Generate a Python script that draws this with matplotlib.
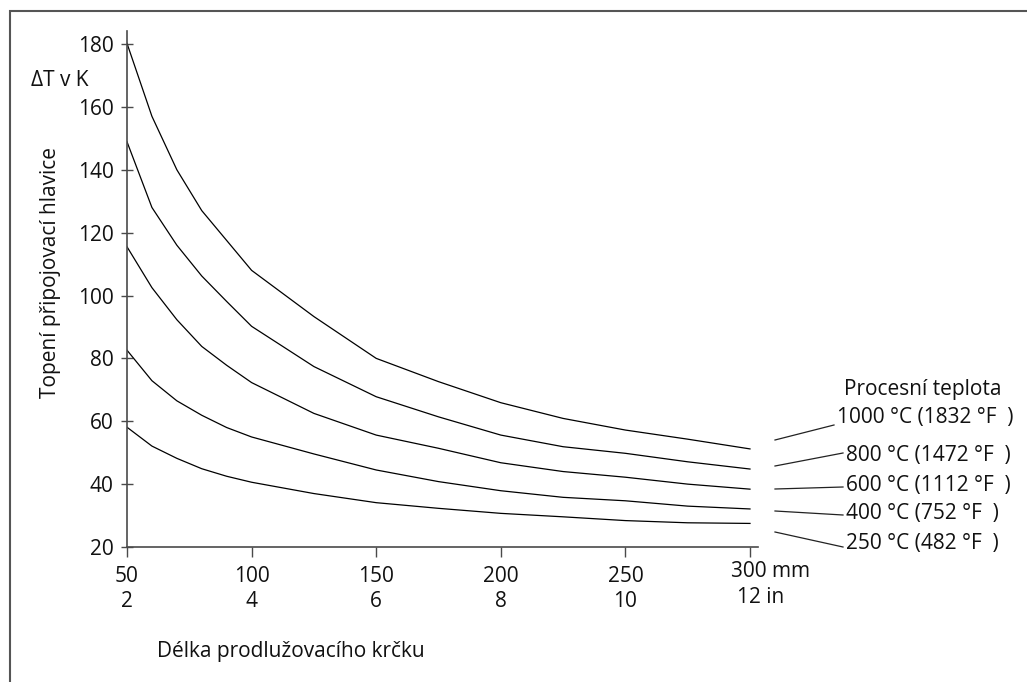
import numpy as np
import matplotlib.pyplot as plt
from matplotlib.lines import Line2D
from matplotlib.patches import Rectangle

plt.rcParams['font.family'] = ['Open Sans', 'DejaVu Sans']

# length of the extension neck (mm)
length_mm = [50, 60, 70, 80, 90, 100, 125, 150, 175, 200, 225, 250, 275, 300]

# heating of the connection head (K), one list per process temperature
dt_1000 = [180.2, 157.0, 140.0, 127.0, 117.5, 108.0, 93.3, 80.0, 72.6, 65.9, 60.9, 57.2, 54.3, 51.2]
dt_800 = [148.9, 128.0, 116.0, 106.2, 98.1, 90.2, 77.4, 67.8, 61.4, 55.6, 51.9, 49.8, 47.1, 44.8]
dt_600 = [115.5, 102.5, 92.3, 83.8, 77.8, 72.3, 62.5, 55.6, 51.4, 46.8, 44.0, 42.2, 40.0, 38.4]
dt_400 = [82.6, 72.9, 66.5, 61.9, 58.0, 55.0, 49.6, 44.5, 40.8, 37.9, 35.8, 34.7, 33.0, 32.1]
dt_250 = [58.1, 52.1, 48.2, 44.9, 42.5, 40.6, 37.0, 34.1, 32.3, 30.7, 29.6, 28.4, 27.7, 27.5]

series = [dt_1000, dt_800, dt_600, dt_400, dt_250]
series_labels = ["1000 °C (1832 °F  )", "800 °C (1472 °F  )", "600 °C (1112 °F  )",
                 "400 °C (752 °F  )", "250 °C (482 °F  )"]

x_ticks = [50, 100, 150, 200, 250, 300]
x_ticks_in = [2, 4, 6, 8, 10, 12]
y_ticks = [20, 40, 60, 80, 100, 120, 140, 160, 180]

W, H = 1027, 682
FS = 15
TXT = "#111111"

fig = plt.figure(figsize=(W / 100, H / 100), dpi=100)
ax = fig.add_axes([127 / W, 1 - 547 / H, (758 - 127) / W, (547 - 31) / H])

for vals in series:
    ax.plot(length_mm, vals, color="black", lw=0.9)

ax.set_xlim(50, 50 + (758 - 127) / 623 * 250)
ax.set_ylim(20, 20 + (547 - 31) / (503 / 160))

axis_col = "#4a4a4a"
for side in ["top", "right"]:
    ax.spines[side].set_visible(False)
for side in ["left", "bottom"]:
    ax.spines[side].set_color(axis_col)
    ax.spines[side].set_linewidth(1.2)

ax.set_yticks(y_ticks)
ax.set_yticklabels([str(v) for v in y_ticks])
ax.tick_params(axis="y", direction="inout", length=9, width=1, color=axis_col,
               labelsize=FS, pad=5, labelcolor=TXT)

ax.set_xticks(x_ticks)
xlabels = [f"{a}\n{b}" for a, b in zip(x_ticks, x_ticks_in)]
xlabels[-1] = ""
ax.set_xticklabels(xlabels)
ax.tick_params(axis="x", direction="out", length=7, width=1, color=axis_col,
               labelsize=FS, pad=7, labelcolor=TXT)

# last tick carries the units
ax.annotate(f"{x_ticks[-1]} mm", xy=(x_ticks[-1], 0), xycoords=("data", "axes fraction"),
            xytext=(-14, -10.2), textcoords="offset points", ha="left", va="top",
            fontsize=FS, color=TXT)
ax.annotate(f"{x_ticks_in[-1]} in", xy=(x_ticks[-1], 0), xycoords=("data", "axes fraction"),
            xytext=(-9.5, -28.5), textcoords="offset points", ha="left", va="top",
            fontsize=FS, color=TXT)

fig.text(51 / W, 1 - 272 / H, "Topení připojovací hlavice", rotation=90,
         ha="center", va="center", fontsize=FS, color=TXT)
fig.text(31 / W, 1 - 80 / H, "ΔT v K", ha="left", va="center", fontsize=FS, color=TXT)
fig.text(157 / W, 1 - 651 / H, "Délka prodlužovacího krčku", ha="left", va="center",
         fontsize=FS, color=TXT)

# process temperature labels with leader lines
fig.text(1002 / W, 1 - 389 / H, "Procesní teplota", ha="right", va="center",
         fontsize=FS, color=TXT)
label_y = [418, 455, 485, 514, 544]
label_x = [837, 846, 846, 846, 846]
lead_start = [440, 466, 489, 511, 532]
lead_end = [425, 453, 487, 515, 547]
for txt, ly, lx, s, e in zip(series_labels, label_y, label_x, lead_start, lead_end):
    fig.text(lx / W, 1 - ly / H, txt, ha="left", va="center", fontsize=FS, color=TXT)
    fig.add_artist(Line2D([775 / W, (lx - 3) / W], [1 - s / H, 1 - e / H],
                          color="#222222", lw=0.9))

# outer frame
fig.add_artist(Rectangle((9.5 / W, -0.05), 1.1, 1 - 11 / H + 0.05, transform=fig.transFigure,
                         fill=False, edgecolor="#555555", lw=1.5))

fig.savefig("out.png", dpi=100)
